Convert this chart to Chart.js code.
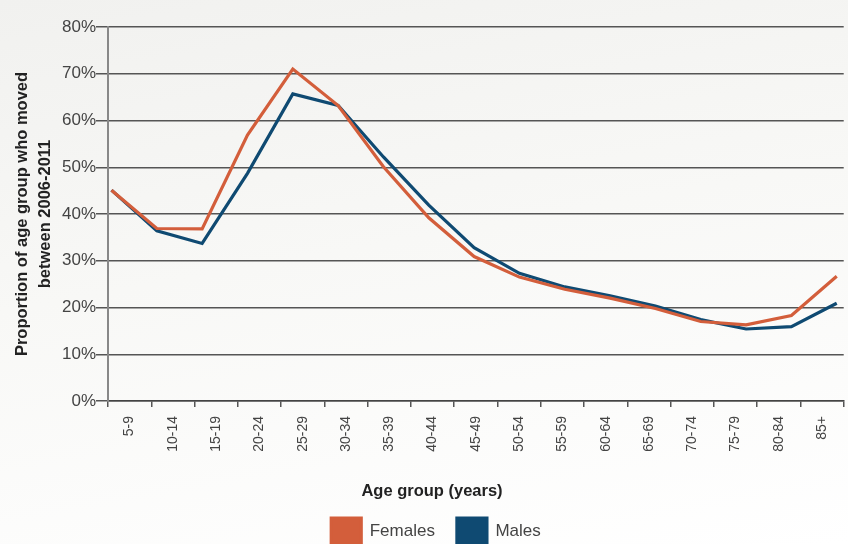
<!DOCTYPE html>
<html>
<head>
<meta charset="utf-8">
<script src="https://cdn.jsdelivr.net/npm/chart.js@4/dist/chart.umd.min.js"></script>
<style>
  html, body { margin: 0; padding: 0; overflow: hidden; }
  body { width: 848px; height: 544px; background: linear-gradient(170deg, #f1f1ef 0%, #f8f8f6 45%, #ffffff 100%); }
  canvas { display: block; }
</style>
</head>
<body>
<canvas id="chart" width="848" height="544"></canvas>
<script>
const ageGroups = ['5-9', '10-14', '15-19', '20-24', '25-29', '30-34', '35-39', '40-44', '45-49',
                   '50-54', '55-59', '60-64', '65-69', '70-74', '75-79', '80-84', '85+'];
const females = [45.1, 36.9, 36.8, 56.9, 71.0, 63.2, 50.1, 39.2, 30.9, 26.5, 23.9, 22.0, 19.8, 17.0, 16.3, 18.3, 26.7];
const males   = [45.1, 36.4, 33.7, 48.7, 65.7, 63.2, 52.2, 41.9, 32.8, 27.3, 24.4, 22.5, 20.3, 17.4, 15.4, 15.9, 20.9];
const yTicks = [0, 10, 20, 30, 40, 50, 60, 70, 80];
const xTitle = 'Age group (years)';
const yTitle = ['Proportion of age group who moved', 'between 2006-2011'];

const FEMALE = '#d35e3b';
const MALE = '#0f4a72';
const FONT = '"Liberation Sans", Arial, sans-serif';

// x axis title sits centred on the page rather than on the plot area
const axisTitle = {
    id: 'axisTitle',
    afterDraw(chart) {
        const c = chart.ctx;
        c.save();
        c.font = 'bold 16.5px ' + FONT;
        c.fillStyle = '#222';
        c.textAlign = 'center';
        c.textBaseline = 'middle';
        c.fillText(xTitle, chart.width / 2 + 8, chart.scales.x.bottom - 5);
        c.restore();
    }
};

const ctx = document.getElementById('chart').getContext('2d');
new Chart(ctx, {
    type: 'line',
    data: {
        labels: ageGroups,
        datasets: [
            {
                label: 'Females',
                data: females.map((v, i) => ({ x: i, y: v })),
                xAxisID: 'xd',
                borderColor: FEMALE,
                backgroundColor: FEMALE,
                borderWidth: 3.2,
                pointRadius: 0,
                tension: 0,
                fill: false,
            },
            {
                label: 'Males',
                data: males.map((v, i) => ({ x: i, y: v })),
                xAxisID: 'xd',
                borderColor: MALE,
                backgroundColor: MALE,
                borderWidth: 3.2,
                pointRadius: 0,
                tension: 0,
                fill: false,
            },
        ],
    },
    plugins: [axisTitle],
    options: {
        responsive: false,
        animation: false,
        layout: {
            padding: { top: 27, left: 24, right: 0, bottom: -10 },
        },
        scales: {
            xd: {
                type: 'linear',
                display: false,
                min: -0.077,
                max: 16.154,
            },
            x: {
                type: 'category',
                labels: ageGroups,
                offset: true,
                afterFit: (s) => { s.height = 95; },
                grid: {
                    offset: true,
                    drawOnChartArea: false,
                    drawTicks: true,
                    tickLength: 6,
                    color: '#555',
                    lineWidth: 1.5,
                },
                border: { display: true, color: '#444', width: 1.5 },
                ticks: {
                    minRotation: 90,
                    maxRotation: 90,
                    autoSkip: false,
                    padding: 9,
                    color: '#444',
                    font: { family: FONT, size: 14 },
                },
                title: { display: false },
            },
            y: {
                min: 0,
                max: 80,
                afterFit: (s) => { s.width = 84; },
                afterBuildTicks: (s) => { s.ticks = yTicks.map(v => ({ value: v })); },
                grid: {
                    color: '#555',
                    lineWidth: 1.5,
                    drawTicks: true,
                    tickLength: 12,
                },
                border: { display: true, color: '#888', width: 2 },
                ticks: {
                    padding: 0,
                    color: '#444',
                    font: { family: FONT, size: 17 },
                    callback: (v) => v + '%',
                },
                title: {
                    display: true,
                    text: yTitle,
                    color: '#222',
                    font: { family: FONT, size: 16.5, weight: 'bold', lineHeight: 1.45 },
                    padding: { top: -14, bottom: 0 },
                },
            },
        },
        plugins: {
            legend: {
                display: true,
                position: 'bottom',
                labels: {
                    boxWidth: 30,
                    boxHeight: 26,
                    padding: 22,
                    color: '#444',
                    font: { family: FONT, size: 17 },
                },
            },
            tooltip: { enabled: false },
            title: { display: false },
        },
    },
});
</script>
</body>
</html>
